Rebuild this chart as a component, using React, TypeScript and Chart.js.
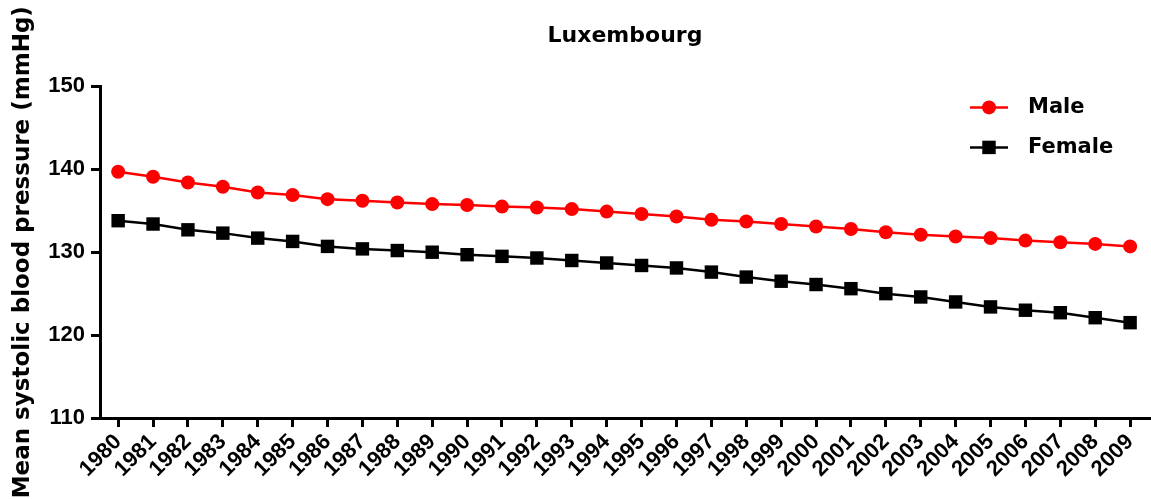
import React, { useEffect, useRef } from "react";
import { Chart, registerables } from "chart.js";

Chart.register(...registerables);

const chartTitle = "Luxembourg";
const yAxisTitle = "Mean systolic blood pressure (mmHg)";

const years = [
  1980, 1981, 1982, 1983, 1984, 1985, 1986, 1987, 1988, 1989,
  1990, 1991, 1992, 1993, 1994, 1995, 1996, 1997, 1998, 1999,
  2000, 2001, 2002, 2003, 2004, 2005, 2006, 2007, 2008, 2009,
];

const maleSBP = [
  139.7, 139.1, 138.4, 137.9, 137.2, 136.9, 136.4, 136.2, 136.0, 135.8,
  135.7, 135.5, 135.4, 135.2, 134.9, 134.6, 134.3, 133.9, 133.7, 133.4,
  133.1, 132.8, 132.4, 132.1, 131.9, 131.7, 131.4, 131.2, 131.0, 130.7,
];

const femaleSBP = [
  133.8, 133.4, 132.7, 132.3, 131.7, 131.3, 130.7, 130.4, 130.2, 130.0,
  129.7, 129.5, 129.3, 129.0, 128.7, 128.4, 128.1, 127.6, 127.0, 126.5,
  126.1, 125.6, 125.0, 124.6, 124.0, 123.4, 123.0, 122.7, 122.1, 121.5,
];

const seriesNames = ["Male", "Female"];
const seriesColors = ["#ff0000", "#000000"];

const yMin = 110;
const yMax = 150;
const yStep = 10;

const legendPlugin = {
  id: "lineMarkerLegend",
  afterDraw(chart: any) {
    const { ctx, chartArea } = chart;
    ctx.save();
    chart.data.datasets.forEach((ds: any, i: number) => {
      const x0 = chartArea.right - 180;
      const x1 = x0 + 38;
      const cx = (x0 + x1) / 2;
      const cy = chartArea.top + 21 + i * 40;
      ctx.strokeStyle = ds.borderColor;
      ctx.lineWidth = ds.borderWidth;
      ctx.beginPath();
      ctx.moveTo(x0, cy);
      ctx.lineTo(x1, cy);
      ctx.stroke();
      ctx.fillStyle = ds.backgroundColor;
      if (ds.pointStyle === "rect") {
        const s = ds.pointRadius * Math.SQRT1_2;
        ctx.fillRect(cx - s, cy - s, 2 * s, 2 * s);
      } else {
        ctx.beginPath();
        ctx.arc(cx, cy, ds.pointRadius, 0, Math.PI * 2);
        ctx.fill();
      }
      ctx.fillStyle = "#000";
      ctx.font = "bold 21px 'DejaVu Sans'";
      ctx.textAlign = "left";
      ctx.textBaseline = "middle";
      ctx.fillText(ds.label, x1 + 20, cy);
    });
    ctx.restore();
  },
};

export default function App() {
  const canvasRef = useRef<HTMLCanvasElement | null>(null);

  useEffect(() => {
    if (!canvasRef.current) return;
    const chart = new Chart(canvasRef.current, {
      type: "line",
      data: {
        datasets: [
          {
            label: seriesNames[0],
            data: years.map((yr, i) => ({ x: yr, y: maleSBP[i] })),
            borderColor: seriesColors[0],
            backgroundColor: seriesColors[0],
            borderWidth: 2.5,
            pointStyle: "circle",
            pointRadius: 7,
            pointBorderWidth: 0,
            tension: 0,
            clip: false,
          },
          {
            label: seriesNames[1],
            data: years.map((yr, i) => ({ x: yr, y: femaleSBP[i] })),
            borderColor: seriesColors[1],
            backgroundColor: seriesColors[1],
            borderWidth: 2.5,
            pointStyle: "rect",
            pointRadius: 9.5,
            pointBorderWidth: 0,
            tension: 0,
            clip: false,
          },
        ],
      },
      options: {
        responsive: false,
        animation: false,
        layout: { autoPadding: false, padding: { left: 0, right: 1, top: 0, bottom: 0 } },
        plugins: {
          legend: { display: false },
          tooltip: { enabled: false },
          title: {
            display: true,
            text: chartTitle,
            fullSize: false,
            color: "#000",
            font: { family: "DejaVu Sans", weight: "bold", size: 22 },
            padding: { top: 23, bottom: 37 },
          },
        },
        scales: {
          x: {
            type: "linear",
            min: years[0] - 0.52,
            max: years[years.length - 1] + 0.57,
            afterBuildTicks: (scale: any) => {
              scale.ticks = years.map((v) => ({ value: v }));
            },
            afterFit: (scale: any) => {
              scale.height = 81;
              scale.paddingLeft = 0;
              scale.paddingRight = 0;
            },
            ticks: {
              autoSkip: false,
              minRotation: 45,
              maxRotation: 45,
              padding: 2,
              color: "#000",
              font: { family: "Liberation Sans", weight: "bold", size: 22 },
              callback: (v: any) => String(v),
            },
            grid: {
              drawOnChartArea: false,
              drawTicks: true,
              tickLength: 9,
              color: "#000",
              lineWidth: 3,
            },
            border: { display: true, color: "#000", width: 3 },
          },
          y: {
            min: yMin,
            max: yMax,
            afterFit: (scale: any) => {
              scale.width = 100;
            },
            ticks: {
              stepSize: yStep,
              padding: 6,
              color: "#000",
              font: { family: "Liberation Sans", weight: "bold", size: 22 },
            },
            grid: {
              drawOnChartArea: false,
              drawTicks: true,
              tickLength: 9,
              color: "#000",
              lineWidth: 3,
            },
            border: { display: true, color: "#000", width: 3 },
            title: {
              display: true,
              text: yAxisTitle,
              color: "#000",
              font: { family: "DejaVu Sans", weight: "bold", size: 23 },
              padding: { top: 9, bottom: 0 },
            },
          },
        },
      },
      plugins: [legendPlugin],
    } as any);
    return () => chart.destroy();
  }, []);

  return (
    <div style={{ position: "absolute", left: 0, top: 0, width: 1151, height: 499, background: "#fff" }}>
      <canvas ref={canvasRef} width={1151} height={499} style={{ display: "block" }} />
    </div>
  );
}
